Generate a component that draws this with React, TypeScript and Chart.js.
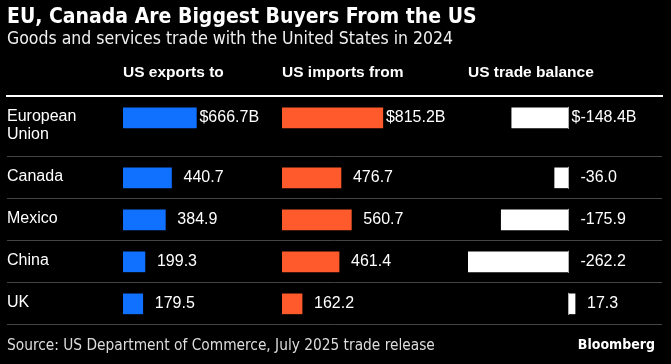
import React, { useEffect, useRef } from 'react';
import { Chart, registerables } from 'chart.js';

Chart.register(...registerables);

// ---- data ----
const countries: string[][] = [['European', 'Union'], ['Canada'], ['Mexico'], ['China'], ['UK']];
const exportsTo = [666.7, 440.7, 384.9, 199.3, 179.5];
const importsFrom = [815.2, 476.7, 560.7, 461.4, 162.2];
const tradeBalance = [-148.4, -36.0, -175.9, -262.2, 17.3];
const columnHeaders = ['US exports to', 'US imports from', 'US trade balance'];
const titleText = 'EU, Canada Are Biggest Buyers From the US';
const subtitleText = 'Goods and services trade with the United States in 2024';
const sourceText = 'Source: US Department of Commerce, July 2025 trade release';
const brandText = 'Bloomberg';

// ---- layout helpers (derived from label line counts) ----
const ROW_PX = 42;
const LINE_PX = 18;
const rowUnits = countries.map((l) => 1 + ((l.length - 1) * LINE_PX) / ROW_PX);
const rowStarts: number[] = [];
let acc = 0;
for (const u of rowUnits) {
  rowStarts.push(acc);
  acc += u;
}
const totalUnits = acc;
const rowCenters = rowStarts.map((s, i) => s + rowUnits[i] / 2);
const barPos = rowStarts.map((s) => s + 0.52);
const boundaries = rowStarts.slice(1).concat([totalUnits]);

const LABEL_FONT = '"Liberation Sans", Arial, sans-serif';
const COND_FONT = '"DejaVu Sans Condensed", "DejaVu Sans", sans-serif';

const toPoints = (vals: number[]) => vals.map((v, i) => ({ x: v, y: barPos[i] }));

const valueLabels = {
  id: 'valueLabels',
  afterDatasetsDraw(chart: any) {
    const ctx = chart.ctx;
    ctx.save();
    ctx.font = `16px ${LABEL_FONT}`;
    ctx.fillStyle = '#ffffff';
    ctx.textBaseline = 'middle';
    chart.data.datasets.forEach((ds: any, di: number) => {
      const meta = chart.getDatasetMeta(di);
      meta.data.forEach((bar: any, i: number) => {
        const v = ds.data[i].x as number;
        const x = Math.max(bar.x, bar.base) + 12;
        const num = v.toFixed(1);
        if (i === 0) {
          ctx.textAlign = 'right';
          ctx.fillText('$', x, bar.y);
          ctx.textAlign = 'left';
          ctx.fillText(num + 'B', x, bar.y);
        } else {
          ctx.textAlign = 'left';
          ctx.fillText(num, x, bar.y);
        }
      });
    });
    // zero line for the balance column
    const xBal = chart.scales.xBal;
    const zx = Math.floor(xBal.getPixelForValue(0)) + 0.5;
    const balMeta = chart.getDatasetMeta(2);
    ctx.strokeStyle = '#b0b0b0';
    ctx.lineWidth = 1;
    balMeta.data.forEach((bar: any) => {
      ctx.beginPath();
      ctx.moveTo(zx, bar.y - 11);
      ctx.lineTo(zx, bar.y + 11);
      ctx.stroke();
    });
    ctx.restore();
  },
};

const footer = {
  id: 'footer',
  afterDraw(chart: any) {
    const ctx = chart.ctx;
    ctx.save();
    ctx.textBaseline = 'middle';
    ctx.fillStyle = '#dddddd';
    ctx.textAlign = 'left';
    ctx.font = `15.3px ${COND_FONT}`;
    ctx.fillText(sourceText, 7, 346);
    ctx.fillStyle = '#ffffff';
    ctx.textAlign = 'right';
    ctx.font = `bold 14px ${COND_FONT}`;
    ctx.fillText(brandText, chart.width - 16, 345);
    ctx.restore();
  },
};

const xCol = (weight: number) => ({
  type: 'linear' as const,
  axis: 'x' as const,
  position: 'top' as const,
  stack: 'cols',
  stackWeight: weight,
  offset: false,
  ticks: { display: false },
  grid: { display: false, drawTicks: false },
  border: { display: true, color: '#ffffff', width: 2 },
});

const headerTitle = (text: string) => ({
  display: true,
  text,
  align: 'start' as const,
  color: '#ffffff',
  font: { family: LABEL_FONT, size: 15.5, weight: 'bold' as const, lineHeight: '18px' },
  padding: { top: 15, bottom: 14 },
});

export default function App() {
  const ref = useRef<HTMLCanvasElement | null>(null);
  useEffect(() => {
    document.body.style.margin = '0';
    document.body.style.background = '#000';
    if (!ref.current) return;
    const chart = new Chart(ref.current, {
      type: 'bar',
      data: {
        datasets: [
          {
            label: columnHeaders[0],
            data: toPoints(exportsTo),
            xAxisID: 'xExp',
            yAxisID: 'y',
            backgroundColor: '#1070ff',
            barThickness: 20,
            grouped: false,
            borderWidth: 0,
          },
          {
            label: columnHeaders[1],
            data: toPoints(importsFrom),
            xAxisID: 'xImp',
            yAxisID: 'y',
            backgroundColor: '#ff5a2b',
            barThickness: 20,
            grouped: false,
            borderWidth: 0,
          },
          {
            label: columnHeaders[2],
            data: toPoints(tradeBalance),
            xAxisID: 'xBal',
            yAxisID: 'y',
            backgroundColor: '#ffffff',
            barThickness: 20,
            grouped: false,
            borderWidth: 0,
          },
        ] as any,
      },
      options: {
        indexAxis: 'y',
        animation: false,
        responsive: false,
        devicePixelRatio: 1,
        layout: { padding: { left: 7, right: 9, top: 0, bottom: 40 } },
        plugins: {
          legend: { display: false },
          tooltip: { enabled: false },
          title: {
            display: true,
            text: titleText,
            align: 'start',
            color: '#ffffff',
            font: { family: COND_FONT, size: 21, weight: 'bold', lineHeight: '22px' },
            padding: { top: 7, bottom: 0 },
          },
          subtitle: {
            display: true,
            text: subtitleText,
            align: 'start',
            color: '#f0f0f0',
            font: { family: COND_FONT, size: 17.5, weight: 'normal', lineHeight: '20px' },
            padding: { top: 0, bottom: 0 },
          },
        },
        scales: {
          // top boxes with equal weight are placed in reverse order, so the
          // right-most column is declared first
          xBal: { ...xCol(194), min: -263, max: 245, title: headerTitle(columnHeaders[2]) },
          xImp: { ...xCol(186), min: 0, max: 1504, title: headerTitle(columnHeaders[1]) },
          xExp: { ...xCol(159), min: 0, max: 1445, title: headerTitle(columnHeaders[0]) },
          xLab: { ...xCol(116), min: 0, max: 1, title: headerTitle('') },
          y: {
            type: 'linear',
            axis: 'y',
            position: 'left',
            reverse: true,
            min: 0,
            max: totalUnits,
            offset: false,
            afterBuildTicks: (s: any) => {
              s.ticks = rowCenters.map((v) => ({ value: v }));
            },
            ticks: {
              mirror: true,
              padding: 0,
              autoSkip: false,
              color: '#ffffff',
              font: { family: LABEL_FONT, size: 16, lineHeight: '18px' },
              callback: (_v: any, i: number) => countries[i],
            },
            grid: { display: false, offset: false, drawTicks: false },
            border: { display: false },
          },
          yGrid: {
            type: 'linear',
            axis: 'y',
            position: 'left',
            reverse: true,
            min: 0,
            max: totalUnits,
            offset: false,
            afterBuildTicks: (s: any) => {
              s.ticks = boundaries.map((v) => ({ value: v }));
            },
            ticks: { display: false },
            grid: { color: '#444444', lineWidth: 1, drawTicks: false, offset: false },
            border: { display: false },
          },
        } as any,
      },
      plugins: [valueLabels, footer],
    });
    return () => chart.destroy();
  }, []);
  return (
    <div style={{ width: 671, height: 364, background: '#000' }}>
      <canvas ref={ref} width={671} height={364} style={{ display: 'block', background: '#000' }} />
    </div>
  );
}
